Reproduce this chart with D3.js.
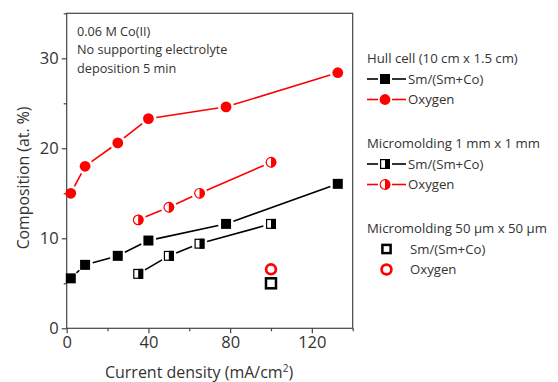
<!DOCTYPE html>
<html><head><meta charset="utf-8">
<script src="https://cdn.jsdelivr.net/npm/d3@7"></script>
<style>
body{margin:0;background:#fff;}
text{font-family:"Open Sans",sans-serif;fill:#333;}
</style></head>
<body><svg id="c" width="558" height="382"></svg>
<script>
// Data
const hullX = [2, 9, 25, 40, 78, 132.7];
const hullSm = [5.55, 7.05, 8.05, 9.75, 11.6, 16.05];
const hullO = [15.0, 18.0, 20.6, 23.3, 24.6, 28.4];
const microX = [35, 50, 65, 100];
const microSm = [6.05, 8.05, 9.4, 11.6];
const microO = [12.05, 13.45, 15.0, 18.45];
const smallX = [100];
const smallSm = [5.0];
const smallO = [6.55];
const xTicks = [0, 40, 80, 120];
const xMinor = [20, 60, 100, 140];
const yTicks = [0, 10, 20, 30];
const yMinor = [5, 15, 25, 35];
const notes = ["0.06 M Co(II)", "No supporting electrolyte", "deposition 5 min"];
const legendGroups = [
  {title: "Hull cell (10 cm x 1.5 cm)", style: "full"},
  {title: "Micromolding 1 mm x 1 mm", style: "half"},
  {title: "Micromolding 50 \u00b5m x 50 \u00b5m", style: "open"}
];
const legendItems = ["Sm/(Sm+Co)", "Oxygen"];

const RED = "#ff0000", BLK = "#000";
const svg = d3.select("#c");
const x = d3.scaleLinear().domain([0, 140]).range([66.7, 352.7]);
const y = d3.scaleLinear().domain([0, 35]).range([328.3, 13.3]);

// frame
svg.append("rect").attr("x", x(0)).attr("y", y(35)).attr("width", x(140) - x(0)).attr("height", y(0) - y(35))
  .attr("fill", "none").attr("stroke", "#444").attr("stroke-width", 1.2);

// axes
const gx = svg.append("g").attr("transform", `translate(0,${y(0)})`)
  .call(d3.axisBottom(x).tickValues(xTicks).tickSize(5).tickPadding(3).tickFormat(d3.format("d")));
const gxm = svg.append("g").attr("transform", `translate(0,${y(0)})`)
  .call(d3.axisBottom(x).tickValues(xMinor).tickSize(3).tickFormat(""));
const gy = svg.append("g").attr("transform", `translate(${x(0)},0)`)
  .call(d3.axisLeft(y).tickValues(yTicks).tickSize(5).tickPadding(3).tickFormat(d3.format("d")));
const gym = svg.append("g").attr("transform", `translate(${x(0)},0)`)
  .call(d3.axisLeft(y).tickValues(yMinor).tickSize(3).tickFormat(""));
[gx, gxm, gy, gym].forEach(g => {
  g.select(".domain").remove();
  g.selectAll("line").attr("stroke", "#444").attr("stroke-width", 1.2);
  g.selectAll("text").style("font-size", "16.5px").style("font-family", "'Open Sans',sans-serif").attr("fill", "#333");
});

// axis titles
const xt = svg.append("text").attr("x", 199).attr("y", 378).attr("text-anchor", "middle").style("font-size", "16px");
xt.append("tspan").text("Current density (mA/cm");
xt.append("tspan").text("2").attr("dy", -6).style("font-size", "10px");
xt.append("tspan").text(")").attr("dy", 6);
svg.append("text").attr("transform", "translate(29,178) rotate(-90)").attr("text-anchor", "middle")
  .style("font-size", "15.8px").text("Composition (at. %)");

// notes
svg.selectAll(".note").data(notes).join("text").attr("class", "note")
  .attr("x", 77).attr("y", (d, i) => 35.5 + i * 18.5).style("font-size", "12.7px").text(d => d);

// marker drawing
const R = 5.4, S = 10, GAP = 2.5;
function marker(g, cx, cy, shape, style, color, openSize) {
  if (shape === "circle") {
    if (style === "full") {
      g.append("circle").attr("cx", cx).attr("cy", cy).attr("r", R).attr("fill", color);
    } else if (style === "half") {
      g.append("circle").attr("cx", cx).attr("cy", cy).attr("r", R - 0.6).attr("fill", "#fff").attr("stroke", color).attr("stroke-width", 1.2);
      g.append("path").attr("d", `M${cx},${cy - R}A${R},${R} 0 0 1 ${cx},${cy + R}Z`).attr("fill", color);
    } else {
      const o = openSize / 2;
      g.append("circle").attr("cx", cx).attr("cy", cy).attr("r", o - 1.35).attr("fill", "none").attr("stroke", color).attr("stroke-width", 2.7);
    }
  } else {
    const h = S / 2;
    if (style === "full") {
      g.append("rect").attr("x", cx - h).attr("y", cy - h).attr("width", S).attr("height", S).attr("fill", color);
    } else if (style === "half") {
      g.append("rect").attr("x", cx - h + 0.6).attr("y", cy - h + 0.6).attr("width", S - 1.2).attr("height", S - 1.2).attr("fill", "#fff").attr("stroke", color).attr("stroke-width", 1.2);
      g.append("rect").attr("x", cx).attr("y", cy - h).attr("width", h).attr("height", S).attr("fill", color);
    } else {
      const o = openSize / 2;
      g.append("rect").attr("x", cx - o + 1.25).attr("y", cy - o + 1.25).attr("width", openSize - 2.5).attr("height", openSize - 2.5).attr("fill", "none").attr("stroke", color).attr("stroke-width", 2.5);
    }
  }
}
function series(xs, ys, shape, style, color, withLine) {
  const g = svg.append("g");
  const pts = xs.map((v, i) => [x(v), y(ys[i])]);
  if (withLine) {
    const cut = R + GAP;
    for (let i = 0; i < pts.length - 1; i++) {
      const [x1, y1] = pts[i], [x2, y2] = pts[i + 1];
      const dx = x2 - x1, dy = y2 - y1, L = Math.hypot(dx, dy);
      if (L <= 2 * cut) continue;
      const ux = dx / L, uy = dy / L;
      g.append("line").attr("x1", x1 + ux * cut).attr("y1", y1 + uy * cut)
        .attr("x2", x2 - ux * cut).attr("y2", y2 - uy * cut)
        .attr("stroke", color).attr("stroke-width", 1.6);
    }
  }
  pts.forEach(p => marker(g, p[0], p[1], shape, style, color, 12.5));
}
series(hullX, hullO, "circle", "full", RED, true);
series(hullX, hullSm, "square", "full", BLK, true);
series(microX, microO, "circle", "half", RED, true);
series(microX, microSm, "square", "half", BLK, true);
series(smallX, smallO, "circle", "open", RED, false);
series(smallX, smallSm, "square", "open", BLK, false);

// legend
const lg = svg.append("g");
const LFS = "13.2px";
legendGroups.forEach((grp, gi) => {
  const by = 58.5 + gi * 85;
  lg.append("text").attr("x", 367).attr("y", by + 4.7).style("font-size", LFS).text(grp.title);
  legendItems.forEach((lab, li) => {
    const ly = by + 20.5 + li * 20.5;
    const color = li === 0 ? BLK : RED;
    const shape = li === 0 ? "square" : "circle";
    if (grp.style !== "open") {
      lg.append("line").attr("x1", 367).attr("x2", 378).attr("y1", ly).attr("y2", ly).attr("stroke", color).attr("stroke-width", 1.6);
      lg.append("line").attr("x1", 392).attr("x2", 406).attr("y1", ly).attr("y2", ly).attr("stroke", color).attr("stroke-width", 1.6);
      marker(lg, 385, ly, shape, grp.style, color, 11);
      lg.append("text").attr("x", 408).attr("y", ly + 4.7).style("font-size", LFS).text(lab);
    } else {
      marker(lg, 386.5, ly, shape, grp.style, color, li === 0 ? 10.7 : 12.5);
      lg.append("text").attr("x", 410).attr("y", ly + 4.7).style("font-size", LFS).text(lab);
    }
  });
});
</script></body></html>
